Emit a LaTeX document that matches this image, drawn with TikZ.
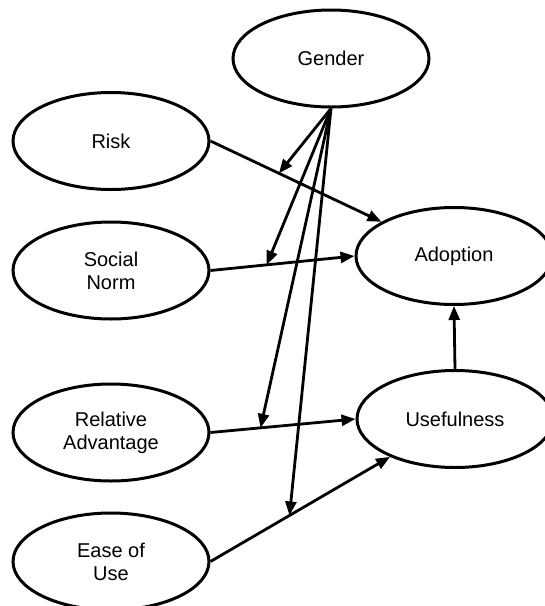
\documentclass[tikz,border=0pt]{standalone}
\usepackage{fontspec}
\setmainfont{Liberation Sans}
\usetikzlibrary{shapes.geometric,arrows.meta}

\begin{document}
\begin{tikzpicture}[x=1pt,y=-1pt,
  construct/.style={draw=black,line width=3pt,ellipse,inner sep=0pt,
    minimum width=196pt,minimum height=97pt,align=center,
    font=\fontsize{20}{23}\selectfont},
  link/.style={line width=2.8pt,-{Triangle[length=14pt,width=11pt]}},
  plain/.style={line width=2.8pt}]
  \useasboundingbox (0,0) rectangle (545,606);
  \clip (0,0) rectangle (545,606);

  % constructs
  \node[construct] (gender) at (331,58.5) {Gender};
  \node[construct] (risk) at (111,141) {Risk};
  \node[construct] (norm) at (111,270.5) {Social\\Norm};
  \node[construct] (adopt) at (454,256) {Adoption};
  \node[construct] (relad) at (111,432.5) {Relative\\Advantage};
  \node[construct] (useful) at (455,419) {Usefulness};
  \node[construct] (ease) at (111,561.5) {Ease of\\Use};

  % direct effects, with the points where gender moderates them
  \draw[link] (risk.east) -- coordinate[pos=0.40] (mrisk) (adopt);
  \draw[link] (norm.east) -- coordinate[pos=0.39] (mnorm) (adopt.west);
  \draw[link] (relad.east) -- coordinate[pos=0.345] (mrelad) (useful.west);
  \draw[link] (ease.east) -- coordinate[pos=0.44] (mease) (useful);
  \draw[link] (useful.north) -- (adopt.south);

  % moderating effects of gender
  \draw[link] (gender.south) -- (mrisk);
  \draw[link] (gender.south) -- (mnorm);
  \draw[link] (gender.south) -- (mrelad);
  \draw[link] (gender.south) -- (mease);
\end{tikzpicture}
\end{document}
